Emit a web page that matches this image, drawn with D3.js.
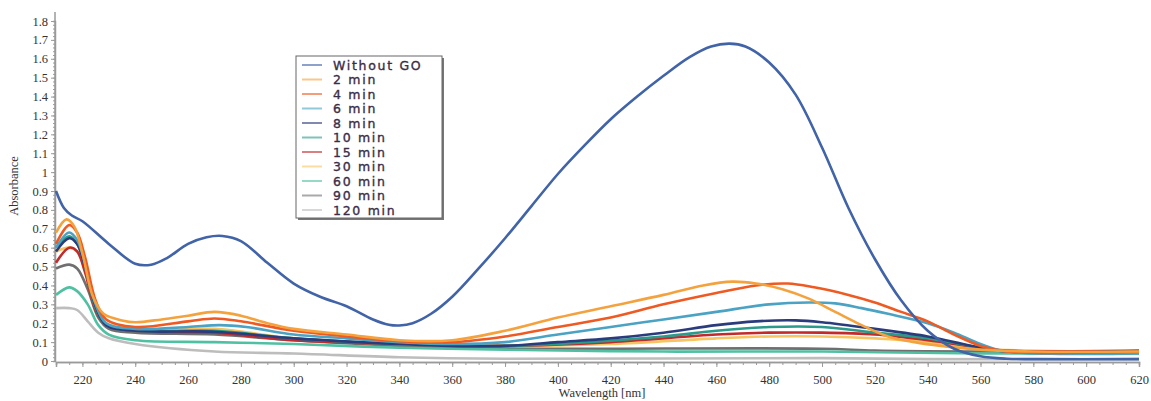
<!DOCTYPE html>
<html>
<head>
<meta charset="utf-8">
<script src="https://d3js.org/d3.v7.min.js"></script>
<title>Absorbance spectra</title>
<style>
  body { margin: 0; background: #fff; }
</style>
</head>
<body>
<div id="chart"></div>
<script type="text/javascript">

// series names, in legend order
var seriesNames = ["Without GO", "2 min", "4 min", "6 min", "8 min", "10 min",
                   "15 min", "30 min", "60 min", "90 min", "120 min"];
var seriesColors = ["#4163a8", "#f4a23e", "#ee5a22", "#4ba3c4", "#2b3c7c", "#2a9a8a",
                    "#c22a2c", "#f6c562", "#4fc0a2", "#6f6f6f", "#bdbdbd"];

// [wavelength nm, absorbance]
var withoutGO = [[210,0.9],[213,0.81],[216,0.77],[220,0.74],[230,0.62],[240,0.515],[246,0.51],[252,0.545],[260,0.62],[267,0.655],[273,0.662],[280,0.635],[290,0.52],[300,0.41],[310,0.34],[320,0.29],[330,0.22],[336,0.192],[340,0.188],[345,0.2],[352,0.25],[360,0.34],[370,0.49],[380,0.65],[390,0.82],[400,0.99],[410,1.14],[420,1.28],[430,1.4],[440,1.51],[450,1.61],[458,1.665],[465,1.68],[471,1.665],[480,1.58],[490,1.41],[500,1.13],[510,0.81],[520,0.54],[530,0.32],[540,0.16],[550,0.065],[560,0.025],[570,0.012],[580,0.01],[620,0.01]];
var min2 = [[210,0.68],[214,0.75],[217,0.71],[220,0.57],[224,0.34],[228,0.25],[235,0.215],[240,0.205],[250,0.22],[260,0.24],[270,0.26],[280,0.24],[290,0.2],[300,0.17],[320,0.14],[340,0.11],[360,0.11],[380,0.16],[400,0.23],[420,0.29],[440,0.35],[455,0.4],[466,0.42],[475,0.41],[485,0.38],[495,0.33],[505,0.26],[515,0.19],[525,0.13],[535,0.1],[545,0.08],[560,0.06],[580,0.05],[620,0.05]];
var min4 = [[210,0.62],[215,0.72],[218,0.68],[221,0.55],[225,0.32],[229,0.22],[240,0.18],[260,0.21],[270,0.225],[280,0.21],[300,0.16],[320,0.13],[340,0.105],[360,0.1],[380,0.13],[400,0.18],[420,0.23],[440,0.3],[460,0.36],[475,0.4],[487,0.41],[497,0.39],[510,0.35],[520,0.31],[530,0.26],[540,0.21],[550,0.14],[560,0.08],[570,0.05],[620,0.05]];
var min6 = [[210,0.6],[215,0.68],[218,0.64],[221,0.52],[225,0.3],[229,0.2],[240,0.17],[260,0.18],[272,0.19],[282,0.18],[300,0.14],[320,0.12],[340,0.1],[360,0.09],[380,0.1],[400,0.14],[420,0.18],[440,0.22],[460,0.26],[480,0.3],[495,0.31],[505,0.305],[515,0.28],[525,0.25],[540,0.2],[550,0.15],[560,0.09],[570,0.05],[620,0.04]];
var min8 = [[210,0.58],[215,0.65],[218,0.62],[221,0.5],[225,0.29],[229,0.19],[240,0.16],[270,0.155],[300,0.12],[340,0.09],[360,0.08],[380,0.08],[400,0.1],[420,0.12],[440,0.15],[460,0.19],[475,0.21],[490,0.215],[500,0.205],[520,0.17],[540,0.13],[550,0.1],[560,0.07],[570,0.05],[620,0.05]];
var min10 = [[210,0.6],[215,0.66],[218,0.62],[221,0.5],[225,0.28],[229,0.19],[240,0.16],[270,0.16],[300,0.12],[340,0.09],[380,0.08],[400,0.09],[440,0.13],[460,0.16],[480,0.18],[500,0.18],[520,0.15],[540,0.12],[560,0.07],[570,0.05],[620,0.05]];
var min15 = [[210,0.52],[215,0.6],[218,0.58],[221,0.47],[225,0.27],[229,0.19],[240,0.16],[270,0.15],[300,0.11],[340,0.09],[380,0.08],[420,0.1],[460,0.14],[480,0.15],[500,0.15],[520,0.14],[540,0.11],[560,0.07],[570,0.055],[620,0.055]];
var min30 = [[210,0.58],[215,0.6],[218,0.58],[221,0.48],[225,0.28],[229,0.2],[240,0.17],[270,0.17],[300,0.12],[340,0.09],[380,0.08],[420,0.09],[460,0.12],[480,0.13],[500,0.13],[520,0.12],[540,0.1],[560,0.065],[620,0.05]];
var min60 = [[210,0.35],[215,0.39],[218,0.37],[222,0.3],[226,0.19],[230,0.14],[240,0.11],[270,0.1],[300,0.09],[340,0.07],[380,0.06],[440,0.05],[500,0.05],[560,0.04],[620,0.04]];
var min90 = [[210,0.49],[215,0.51],[218,0.49],[222,0.38],[226,0.23],[230,0.17],[240,0.15],[270,0.14],[300,0.11],[340,0.08],[360,0.07],[400,0.065],[500,0.065],[520,0.055],[560,0.05],[620,0.05]];
var min120 = [[210,0.28],[215,0.28],[218,0.27],[222,0.21],[226,0.15],[230,0.12],[240,0.09],[270,0.05],[300,0.04],[340,0.02],[380,0.012],[500,0.015],[540,0.01],[620,0.01]];

var allSeries = [withoutGO, min2, min4, min6, min8, min10, min15, min30, min60, min90, min120];

var xTicks = d3.range(220, 621, 20);
var yTicks = d3.range(0, 19).map(function(i){ return i / 10; });

var width = 1151, height = 401;
var plotLeft = 56, plotRight = 1139, plotTop = 21, plotBottom = 361;

var svg = d3.select("#chart").append("svg")
    .attr("width", width)
    .attr("height", height);

var xScale = d3.scaleLinear().domain([210, 620]).range([plotLeft, plotRight]);
var yScale = d3.scaleLinear().domain([0, 1.8]).range([plotBottom, plotTop]);

// axes
var xAxis = svg.append("g").attr("transform", "translate(0," + (plotBottom + 1) + ")");
xAxis.call(d3.axisBottom(xScale).tickValues(xTicks).tickSize(5).tickFormat(d3.format("d")));
xAxis.append("g").call(d3.axisBottom(xScale).tickValues(d3.range(210, 621, 5)).tickSize(3).tickFormat(""));

var yAxis = svg.append("g").attr("transform", "translate(" + (plotLeft - 1) + ",0)");
yAxis.call(d3.axisLeft(yScale).tickValues(yTicks).tickSize(4).tickFormat(function(d){ return d3.format("~g")(d); }));
yAxis.append("g").call(d3.axisLeft(yScale).tickValues(d3.range(0, 91).map(function(i){ return i / 50; })).tickSize(2).tickFormat(""));

svg.selectAll(".domain").attr("stroke", "#9a9a9a").attr("stroke-width", 1.5);
svg.selectAll(".tick line").attr("stroke", "#9a9a9a");
svg.selectAll(".tick text")
    .attr("font-family", "Liberation Serif, serif")
    .attr("font-size", 12.5)
    .attr("fill", "#333");
xAxis.selectAll(".tick text").attr("dy", "1.1em");
yAxis.select(".domain").attr("d", "M0,12V" + (plotBottom + 1));

svg.append("text")
    .attr("x", 602).attr("y", 397)
    .attr("text-anchor", "middle")
    .attr("font-family", "Liberation Serif, serif")
    .attr("font-size", 12.5)
    .attr("fill", "#333")
    .text("Wavelength [nm]");

svg.append("text")
    .attr("transform", "translate(18,186) rotate(-90)")
    .attr("text-anchor", "middle")
    .attr("font-family", "Liberation Serif, serif")
    .attr("font-size", 12.5)
    .attr("fill", "#333")
    .text("Absorbance");

// lines, drawn from last to first so the main curve sits on top
var line = d3.line()
    .x(function(d){ return xScale(d[0]); })
    .y(function(d){ return yScale(d[1]); })
    .curve(d3.curveCatmullRom.alpha(0.5));

svg.append("g").selectAll("path")
    .data(allSeries.map(function(s, i){ return { pts: s, i: i }; }).reverse())
    .enter().append("path")
    .attr("d", function(d){ return line(d.pts); })
    .attr("fill", "none")
    .attr("stroke", function(d){ return seriesColors[d.i]; })
    .attr("stroke-width", 2.6)
    .attr("stroke-linejoin", "round");

// legend
var lg = svg.append("g").attr("transform", "translate(296,56)");
lg.append("rect").attr("x", 2).attr("y", 2).attr("width", 146).attr("height", 162).attr("fill", "#777");
lg.append("rect").attr("width", 146).attr("height", 162).attr("fill", "#fff").attr("stroke", "#666").attr("stroke-width", 1);

var rows = lg.selectAll(".row").data(seriesNames).enter().append("g")
    .attr("class", "row")
    .attr("transform", function(d, i){ return "translate(0," + (9 + i * 14.5) + ")"; });
rows.append("line")
    .attr("x1", 6).attr("x2", 26)
    .attr("stroke", function(d, i){ return seriesColors[i]; })
    .attr("stroke-opacity", 0.6)
    .attr("stroke-width", 2);
rows.append("text")
    .attr("x", 37).attr("y", 4.5)
    .attr("font-family", "DejaVu Sans, Verdana, sans-serif")
    .attr("font-size", 12.5)
    .attr("letter-spacing", 1.7)
    .attr("fill", "#3b2d47")
    .attr("stroke", "#3b2d47")
    .attr("stroke-width", 0.35)
    .text(function(d){ return d; });

</script>
</body>
</html>
